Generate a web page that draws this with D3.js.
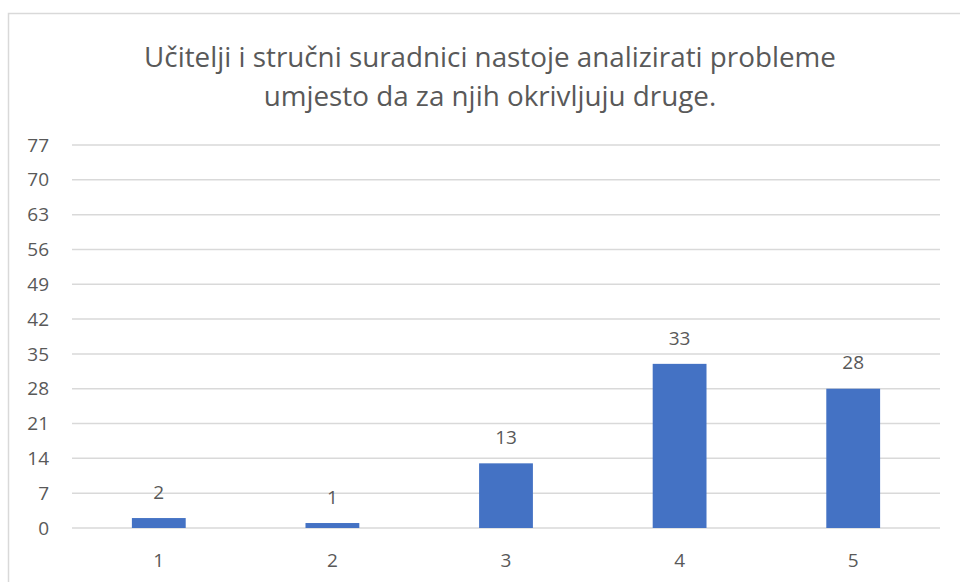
<!DOCTYPE html>
<html>
<head>
<meta charset="utf-8">
<script src="https://cdn.jsdelivr.net/npm/d3@7"></script>
<style>
  body { margin: 0; background: #fff; }
  text { font-family: "Open Sans", sans-serif; fill: #595959; }
</style>
</head>
<body>
<div id="chart"></div>
<script>
const categories = ["1", "2", "3", "4", "5"];
const values = [2, 1, 13, 33, 28];
const yTicks = [0, 7, 14, 21, 28, 35, 42, 49, 56, 63, 70, 77];
const titleLines = [
  "Učitelji i stručni suradnici nastoje analizirati probleme",
  "umjesto da za njih okrivljuju druge."
];

const width = 960, height = 582;
const margin = { top: 145, right: 20, bottom: 54, left: 72 };

const svg = d3.select("#chart").append("svg")
  .attr("width", width)
  .attr("height", height);

// chart frame
svg.append("rect")
  .attr("x", 8.5).attr("y", 13.5)
  .attr("width", 970).attr("height", 580)
  .style("fill", "none")
  .style("stroke", "#d9d9d9")
  .style("stroke-width", 1.5);

const x = d3.scaleBand()
  .domain(categories)
  .range([margin.left, width - margin.right])
  .paddingInner(0.69)
  .paddingOuter(0.345);

const y = d3.scaleLinear()
  .domain([0, 77])
  .range([height - margin.bottom, margin.top]);

// gridlines
svg.append("g")
  .selectAll("line")
  .data(yTicks)
  .enter().append("line")
  .attr("x1", margin.left)
  .attr("x2", width - margin.right)
  .attr("y1", (d) => y(d))
  .attr("y2", (d) => y(d))
  .style("stroke", "#d9d9d9")
  .style("stroke-width", 1.5);

// y labels
svg.append("g")
  .selectAll("text")
  .data(yTicks)
  .enter().append("text")
  .attr("x", 49)
  .attr("y", (d) => y(d))
  .attr("dy", "0.35em")
  .attr("text-anchor", "end")
  .style("font-size", "19px")
  .text((d) => d);

// bars
svg.append("g")
  .selectAll("rect")
  .data(values)
  .enter().append("rect")
  .attr("x", (d, i) => x(categories[i]))
  .attr("y", (d) => y(d))
  .attr("width", x.bandwidth())
  .attr("height", (d) => y(0) - y(d))
  .style("fill", "#4472C4");

// value labels
svg.append("g")
  .selectAll("text")
  .data(values)
  .enter().append("text")
  .attr("x", (d, i) => x(categories[i]) + x.bandwidth() / 2)
  .attr("y", (d) => y(d) - 26)
  .attr("dy", "0.35em")
  .attr("text-anchor", "middle")
  .style("font-size", "19px")
  .text((d) => d);

// x labels
svg.append("g")
  .selectAll("text")
  .data(categories)
  .enter().append("text")
  .attr("x", (d) => x(d) + x.bandwidth() / 2)
  .attr("y", 560)
  .attr("dy", "0.35em")
  .attr("text-anchor", "middle")
  .style("font-size", "19px")
  .text((d) => d);

// title
svg.append("g")
  .selectAll("text")
  .data(titleLines)
  .enter().append("text")
  .attr("x", 490)
  .attr("y", (d, i) => 57 + i * 39)
  .attr("dy", "0.35em")
  .attr("text-anchor", "middle")
  .style("font-size", "27.8px")
  .text((d) => d);
</script>
</body>
</html>
